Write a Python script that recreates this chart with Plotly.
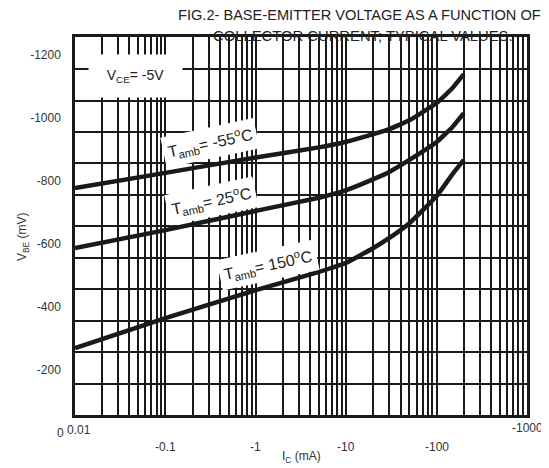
import math
import plotly.graph_objects as go

# collector current (mA, magnitude) and base-emitter voltage (mV, magnitude)
ic_ma = [0.01, 0.1, 1, 5, 10, 20, 30, 50, 100, 150, 200]
vbe_m55 = [778, 826, 875, 907, 925, 949, 965, 993, 1048, 1096, 1140]
vbe_25 = [587, 644, 705, 747, 771, 806, 829, 867, 924, 972, 1016]
vbe_150 = [269, 364, 453, 511, 540, 587, 619, 666, 752, 822, 867]

series_names = ["T<sub>amb</sub>= -55<sup>o</sup>C", "T<sub>amb</sub>= 25<sup>o</sup>C",
                "T<sub>amb</sub>= 150<sup>o</sup>C"]

y_tick_vals = [200, 400, 600, 800, 1000, 1200]
y_tick_text = ["-200", "-400", "-600", "-800", "-1000", "-1200"]
x_tick_vals = [0.1, 1, 10, 100]
x_tick_text = ["-0.1", "-1", "-10", "-100"]

FONT = "Arial, Liberation Sans, sans-serif"
INK = "#1a1a1a"
TXT = "#333"

fig = go.Figure()
for ys in (vbe_m55, vbe_25, vbe_150):
    fig.add_trace(go.Scatter(x=ic_ma, y=ys, mode="lines",
                             line=dict(color=INK, width=4.5, shape="spline", smoothing=0.3),
                             showlegend=False, hoverinfo="skip"))

# vertical grid: all 1..9 multiples per decade
grid_x = []
d = 0.01
while d < 1000:
    for k in range(1, 10):
        grid_x.append(round(k * d, 6))
    d *= 10
grid_x.append(1000)

fig.update_xaxes(type="log", range=[-2, 3], tickmode="array", tickvals=grid_x,
                 showticklabels=False, ticks="", showgrid=True, gridcolor=INK, gridwidth=2,
                 showline=True, linecolor=INK, linewidth=2.5, mirror=True, zeroline=False)
fig.update_yaxes(range=[56, 1258], tickmode="array", tickvals=y_tick_vals, ticktext=y_tick_text,
                 showgrid=False, ticks="", ticklabelstandoff=9,
                 tickfont=dict(family=FONT, size=12, color=TXT),
                 minor=dict(tick0=56, dtick=100, showgrid=True, gridcolor=INK, gridwidth=2, ticks=""),
                 showline=True, linecolor=INK, linewidth=2.5, mirror=True, zeroline=False)

tf = dict(family=FONT, size=12, color=TXT)
ann = []
for v, t in zip(x_tick_vals, x_tick_text):
    ann.append(dict(x=math.log10(v), y=-0.0847, xref="x", yref="paper", text=t, showarrow=False,
                    font=tf, xanchor="center", yanchor="middle"))
ann.append(dict(x=-1.956, y=-0.040, xref="x", yref="paper", text="0.01", showarrow=False,
                font=tf, xanchor="center", yanchor="middle"))
ann.append(dict(x=3, y=-0.034, xref="x", yref="paper", text="-1000", showarrow=False,
                font=tf, xanchor="center", yanchor="middle"))
ann.append(dict(x=-0.031, y=-0.048, xref="paper", yref="paper", text="0", showarrow=False,
                font=tf, xanchor="center", yanchor="middle"))
ann.append(dict(x=0.502, y=-0.111, xref="paper", yref="paper", text="I<sub>C</sub> (mA)", showarrow=False,
                font=tf, xanchor="center", yanchor="middle"))
ann.append(dict(x=-0.115, y=0.471, xref="paper", yref="paper", text="V<sub>BE</sub> (mV)", showarrow=False,
                textangle=-90, font=tf, xanchor="center", yanchor="middle"))
# title (two lines)
ann.append(dict(x=0.630, y=1.058, xref="paper", yref="paper",
                text="FIG.2- BASE-EMITTER VOLTAGE AS A FUNCTION OF",
                showarrow=False, font=dict(family=FONT, size=14.6, color="#222"),
                xanchor="center", yanchor="middle"))
ann.append(dict(x=0.638, y=1.003, xref="paper", yref="paper",
                text="COLLECTOR CURRENT; TYPICAL VALUES.",
                showarrow=False, font=dict(family=FONT, size=14.8, color="#222"),
                xanchor="center", yanchor="middle"))
# V_CE label
ann.append(dict(x=-1.336, y=1134, xref="x", yref="y", text="V<sub>CE</sub>= -5V", showarrow=False,
                bgcolor="white", width=93, height=42, borderpad=0,
                font=dict(family=FONT, size=14, color="#222")))
# temperature labels
label_pos = [(-0.507, 921), (-0.485, 736), (0.135, 533)]
for (lx, ly), name in zip(label_pos, series_names):
    ann.append(dict(x=lx, y=ly, xref="x", yref="y", text=name, showarrow=False, textangle=-12,
                    bgcolor="white", borderpad=4, font=dict(family=FONT, size=16, color="#222")))

fig.update_layout(width=541, height=460, margin=dict(l=67, r=22, t=29, b=53),
                  plot_bgcolor="white", paper_bgcolor="white", annotations=ann)
fig.write_html("out.html")
